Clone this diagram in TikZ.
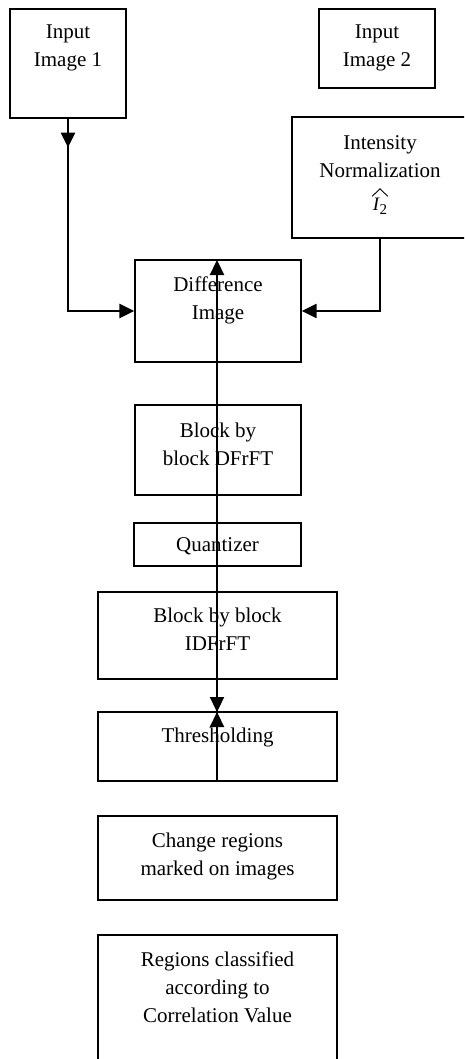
\documentclass[tikz,border=0pt]{standalone}
\usepackage{fontspec}
\setmainfont{Liberation Serif}
\usetikzlibrary{arrows.meta}
\begin{document}
\begin{tikzpicture}[x=1pt,y=-1pt,
  box/.style={draw, line width=1.3pt, inner sep=0pt},
  txt/.style={align=center, font=\fontsize{21}{28}\selectfont, inner sep=0pt, anchor=north},
  flow/.style={line width=2.3pt, -{Triangle[length=15pt,width=14pt]}}]
\useasboundingbox (0,0) rectangle (464,1059);
\clip (0,0) rectangle (464,1059);

% processing blocks
\node[box, minimum width=116pt, minimum height=109pt] (in1) at (68,63.5) {};
\node[box, minimum width=116pt, minimum height=79pt] (in2) at (377,48.5) {};
\node[box, minimum width=176pt, minimum height=121pt] (norm) at (380,177.5) {};
\node[box, minimum width=166pt, minimum height=102pt] (diff) at (218,311) {};
\node[box, minimum width=166pt, minimum height=90pt] (dfrft) at (218,450) {};
\node[box, minimum width=167pt, minimum height=43pt] (quant) at (217.5,544.5) {};
\node[box, minimum width=239pt, minimum height=87pt] (idfrft) at (217.5,635.5) {};
\node[box, minimum width=239pt, minimum height=69pt] (thr) at (217.5,746.5) {};
\node[box, minimum width=239pt, minimum height=84pt] (chg) at (217.5,858) {};
\node[box, minimum width=239pt, minimum height=140pt] (cls) at (217.5,1005) {};

% block captions
\node[txt] (tin1) at ([yshift=-16pt]in1.north) {Input\\Image 1};
\node[txt] (tin2) at ([yshift=-16pt]in2.north) {Input\\Image 2};
\node[txt] (tnorm) at ([yshift=-19pt]norm.north) {Intensity\\Normalization};
% normalised image symbol: italic I with subscript 2 under a wide hat
\node[inner sep=0pt, anchor=base] (thash) at (380,211)
  {{\fontsize{19}{22}\selectfont\itshape I}\kern0.5pt\raisebox{-4pt}{\fontsize{15}{16}\selectfont 2}};
\draw[line width=0.9pt, line join=miter] ([xshift=-0.5pt,yshift=2pt]thash.north west)
  -- ([yshift=9.5pt]thash.north) -- ([xshift=0.5pt,yshift=2pt]thash.north east);
\node[txt] (tdiff) at ([yshift=-17pt]diff.north) {Difference\\Image};
\node[txt] (tdfrft) at ([yshift=-18pt]dfrft.north) {Block by\\block DFrFT};
\node[txt] (tquant) at ([yshift=-15pt]quant.north) {Quantizer};
\node[txt] (tidfrft) at ([yshift=-16pt]idfrft.north) {Block by block\\IDFrFT};
\node[txt] (tthr) at ([yshift=-16pt]thr.north) {Thresholding};
\node[txt] (tchg) at ([yshift=-17pt]chg.north) {Change regions\\marked on images};
\node[txt] (tcls) at ([yshift=-17pt]cls.north) {Regions classified\\according to\\Correlation Value};

% connectors
\coordinate (k1) at ([yshift=-29pt]in1.south);
\draw[flow] (in1.south) -- (k1);
\draw[flow] (in1.south) |- (diff.west);
\draw[flow] (norm.south) |- (diff.east);
\coordinate (vb) at (217,781);
\coordinate (vt) at (217,260);
\coordinate (vm) at (217,712);
\coordinate (vq) at (217,679);
\draw[flow] (vb) -- (vt);
\draw[flow] (vq) -- (vm);
\draw[flow] (vb) -- (vm);
\end{tikzpicture}
\end{document}
